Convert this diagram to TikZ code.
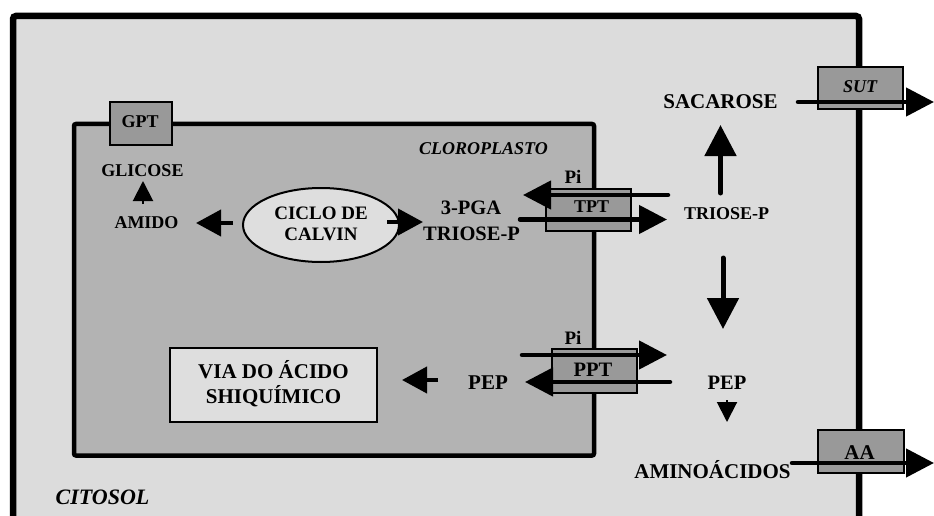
\documentclass[tikz,border=0pt]{standalone}
\usepackage{fontspec}
\setmainfont{Liberation Serif}
\usetikzlibrary{arrows.meta,shapes.geometric}
\definecolor{cyto}{HTML}{DCDCDC}
\definecolor{cloro}{HTML}{B3B3B3}
\definecolor{transp}{HTML}{999999}
\definecolor{light}{HTML}{DEDEDE}
\tikzset{
  lbl/.style={inner sep=0pt, font=\bfseries\fontsize{18}{20}\selectfont, align=center},
  lblb/.style={lbl, font=\bfseries\fontsize{20.5}{24}\selectfont},
  transbox/.style={draw=black, line width=2pt, fill=transp},
  bigarr/.style={line width=5pt, line cap=round, -{Triangle[width=31pt,length=31pt]}},
  medarr/.style={line width=4.5pt, line cap=round, -{Triangle[width=28pt,length=28pt]}},
  smallarr/.style={line width=4pt, -{Triangle[width=26pt,length=25pt]}},
  tinyarr/.style={line width=2pt, -{Triangle[width=20pt,length=20pt]}},
}
\begin{document}
\begin{tikzpicture}[x=1pt,y=-1pt]
\useasboundingbox (0,0) rectangle (934,516);
\begin{scope}
\clip (0,0) rectangle (934,516);
% cytosol
\draw[line width=6.5pt, fill=cyto, rounded corners=3pt] (13,16) rectangle (859,540);
% chloroplast
\draw[line width=4.5pt, fill=cloro, rounded corners=2pt] (74,124) rectangle (594,455.5);
% GPT
\node[transbox, minimum width=62pt, minimum height=43pt, anchor=north west] (gptbox) at (109,101) {};
\node[lbl] (gpt) at (140,122) {GPT};
% labels inside chloroplast
\node[lbl] (glicose) at (142.5,171) {GLICOSE};
\node[lbl] (amido) at (146.5,223) {AMIDO};
\node[draw=black, line width=2pt, fill=light, ellipse, minimum width=156pt, minimum height=74pt, inner sep=0pt] (calvin) at (321,225) {};
\node[lbl, font=\bfseries\fontsize{19}{21.5}\selectfont] (calvintxt) at (321,224) {CICLO DE\\CALVIN};
\node[lbl, font=\bfseries\itshape\fontsize{18}{20}\selectfont] (cloroplasto) at (483.5,149) {CLOROPLASTO};
\node[lblb] (pga) at (471,208) {3-PGA};
\node[lblb] (triosein) at (471.5,233.5) {TRIOSE-P};
\node[draw=black, line width=1.5pt, fill=light, minimum width=207pt, minimum height=74pt, inner sep=0pt] (viabox) at (273.5,385) {};
\node[lbl, font=\bfseries\fontsize{21}{25}\selectfont] (via) at (273.5,384) {VIA DO ÁCIDO\\SHIQUÍMICO};
\node[lbl, font=\bfseries\fontsize{21}{24}\selectfont] (pepin) at (488,383) {PEP};
% cytosol labels
\node[lbl, font=\bfseries\fontsize{21}{24}\selectfont] (sacarose) at (720.5,102) {SACAROSE};
\node[lbl] (trioseout) at (726.5,214) {TRIOSE-P};
\node[lbl, font=\bfseries\fontsize{20.5}{24}\selectfont] (pepout) at (727,383) {PEP};
\node[lbl, font=\bfseries\fontsize{21}{24}\selectfont] (amino) at (712.5,470) {AMINOÁCIDOS};
\node[lbl, font=\bfseries\itshape\fontsize{22}{24}\selectfont] (citosol) at (102.5,497) {CITOSOL};
% arrow coordinates
\coordinate (gA) at (143,204); \coordinate (gB) at (143,181);
\coordinate (aA) at (233,223); \coordinate (aB) at (196,223);
\coordinate (cA) at (387,222); \coordinate (cB) at (423,222);
\coordinate (pA) at (438,380); \coordinate (pB) at (402,380);
\coordinate (uA) at (720.5,193); \coordinate (uB) at (720.5,125);
\coordinate (dA) at (723,258); \coordinate (dB) at (723,329);
\coordinate (eA) at (727,400); \coordinate (eB) at (727,422);
\draw[tinyarr] (gA) -- (gB);
\draw[smallarr] (aA) -- (aB);
\draw[smallarr] (cA) -- (cB);
\draw[smallarr] (pA) -- (pB);
\draw[bigarr] (uA) -- (uB);
\draw[bigarr] (dA) -- (dB);
\draw[tinyarr] (eA) -- (eB);
% TPT
\node[transbox, minimum width=85pt, minimum height=42pt, anchor=north west] (tptbox) at (545,188) {};
\node[lbl, font=\bfseries\fontsize{18}{20}\selectfont] (tpt) at (591.5,206.5) {TPT};
\node[lbl, font=\bfseries\fontsize{19}{20}\selectfont] (pi1) at (573,177) {Pi};
\coordinate (t1A) at (668,195); \coordinate (t1B) at (523,195);
\coordinate (t2A) at (520,219.5); \coordinate (t2B) at (667,219.5);
\draw[medarr] (t1A) -- (t1B);
\draw[medarr] (t2A) -- (t2B);
% PPT
\node[transbox, minimum width=85pt, minimum height=44pt, anchor=north west] (pptbox) at (551,348) {};
\node[lbl, font=\bfseries\fontsize{20.5}{22}\selectfont] (ppt) at (593,370) {PPT};
\node[lbl, font=\bfseries\fontsize{19}{20}\selectfont] (pi2) at (573,338) {Pi};
\coordinate (p1A) at (522,355); \coordinate (p1B) at (667,355);
\coordinate (p2A) at (670,382); \coordinate (p2B) at (525,382);
\draw[medarr] (p1A) -- (p1B);
\draw[medarr] (p2A) -- (p2B);
% SUT
\node[transbox, minimum width=85pt, minimum height=42pt, anchor=north west] (sutbox) at (817,66) {};
\node[lbl, font=\bfseries\itshape\fontsize{18}{20}\selectfont] (sut) at (860,86.5) {SUT};
\coordinate (sA) at (798,102); \coordinate (sB) at (934,102);
\draw[medarr] (sA) -- (sB);
% AA
\node[transbox, minimum width=86pt, minimum height=43pt, anchor=north west] (aabox) at (817,429) {};
\node[lbl, font=\bfseries\fontsize{21}{22}\selectfont] (aa) at (859.5,452.5) {AA};
\coordinate (aaA) at (792,463); \coordinate (aaB) at (934,463);
\draw[medarr] (aaA) -- (aaB);
\end{scope}
\end{tikzpicture}
\end{document}
